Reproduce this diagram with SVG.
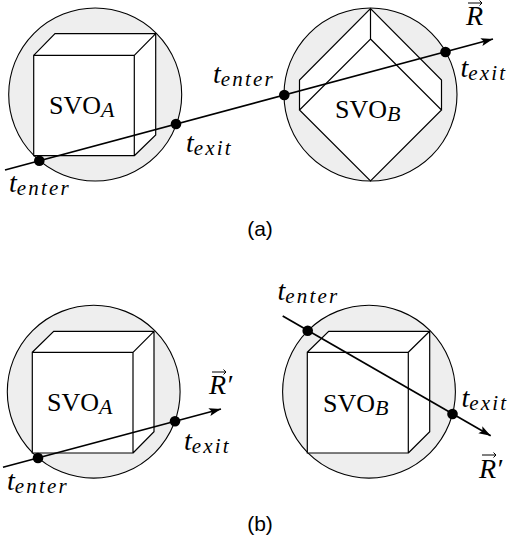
<svg xmlns="http://www.w3.org/2000/svg" width="509" height="543" viewBox="0 0 509 543">
<style>
.c{fill:#eee;stroke:#000;stroke-width:1.1}
.f{fill:#fff;stroke:none}
.e{fill:none;stroke:#000;stroke-width:1.2;stroke-linejoin:miter}
.r{fill:none;stroke:#000;stroke-width:1.7;marker-end:url(#ah)}
.d{fill:#000;stroke:none}
.l{font-family:"Liberation Serif",serif;font-size:26px;fill:#000}
.m{font-family:"Liberation Serif",serif;font-size:28px;font-style:italic;fill:#000}
.s{font-size:21px;font-style:italic;letter-spacing:2.2px}
.u{font-size:22px;font-style:italic}
.v{fill:none;stroke:#000;stroke-width:1}
.cap{font-family:"Liberation Sans",sans-serif;font-size:21px;fill:#000;text-anchor:middle}
</style>
<defs>
<marker id="ah" markerUnits="userSpaceOnUse" markerWidth="14" markerHeight="12" refX="12" refY="5" orient="auto"><path d="M0 1L12 5L0 9L2.5 5Z" fill="#000"/></marker>
<g id="vec"><path class="v" d="M0 0H14M11.5 -2.5L14 0L11.5 2.5"/></g>
</defs>
<g id="svo-a-top">
<circle class="c" cx="95.2" cy="94.5" r="86.5"/>
<path class="f" d="M33.7 55.3L55 33.7H155.7V135L134.3 155.7H33.7Z"/>
<path class="e" d="M33.7 55.3H134.3V155.7H33.7ZM33.7 55.3L55 33.7H155.7V135L134.3 155.7M134.3 55.3L155.7 33.7"/>
<text class="l" x="49" y="113.5">SVO<tspan class="u" dy="3.5">A</tspan></text>
</g>
<g id="svo-b-top">
<circle class="c" cx="370.5" cy="94.5" r="86.5"/>
<path class="f" d="M370.5 8.5L441.5 80V110L370.5 181L299.5 110V80Z"/>
<path class="e" d="M370.5 39L441.5 110L370.5 181L299.5 110ZM299.5 110V80L370.5 8.5L441.5 80V110M370.5 8.5V39"/>
<text class="l" x="335" y="117.5">SVO<tspan class="u" dy="3.5">B</tspan></text>
</g>
<g id="svo-a-bottom">
<circle class="c" cx="93.7" cy="391.7" r="86.4"/>
<path class="f" d="M32.3 352.3L53.7 331.3H154V431.7L133 453H32.3Z"/>
<path class="e" d="M32.3 352.3H133V453H32.3ZM32.3 352.3L53.7 331.3H154V431.7L133 453M133 352.3L154 331.3"/>
<text class="l" x="47" y="410.7">SVO<tspan class="u" dy="3.5">A</tspan></text>
</g>
<g id="svo-b-bottom">
<circle class="c" cx="369" cy="391.7" r="86.4"/>
<path class="f" d="M307.3 352.3L328.7 331.3H429.7V431.7L408.3 453H307.3Z"/>
<path class="e" d="M307.3 352.3H408.3V453H307.3ZM307.3 352.3L328.7 331.3H429.7V431.7L408.3 453M408.3 352.3L429.7 331.3"/>
<text class="l" x="323" y="411.5">SVO<tspan class="u" dy="3.5">B</tspan></text>
</g>
<g id="connectors">
<path class="r" d="M5 170L493 39"/>
<path class="r" d="M3 467.3L221 409"/>
<path class="r" d="M282.7 316L490.7 435.7"/>
</g>
<g id="points">
<circle class="d" cx="39.3" cy="160.7" r="5.3"/>
<circle class="d" cx="176" cy="124" r="5.3"/>
<circle class="d" cx="284.3" cy="95" r="5.3"/>
<circle class="d" cx="445.5" cy="52" r="5.3"/>
<circle class="d" cx="38" cy="458" r="5.3"/>
<circle class="d" cx="175" cy="421.3" r="5.3"/>
<circle class="d" cx="307.7" cy="330.7" r="5.3"/>
<circle class="d" cx="452.5" cy="414" r="5.3"/>
</g>
<g id="labels">
<text class="m" x="9" y="191.5">t<tspan class="s" dy="3">enter</tspan></text>
<text class="m" x="186" y="151.5">t<tspan class="s" dy="3">exit</tspan></text>
<text class="m" x="213" y="83">t<tspan class="s" dy="3">enter</tspan></text>
<text class="m" x="460.5" y="76.5">t<tspan class="s" dy="3">exit</tspan></text>
<text class="m" x="7" y="490">t<tspan class="s" dy="3">enter</tspan></text>
<text class="m" x="184" y="450">t<tspan class="s" dy="3">exit</tspan></text>
<text class="m" x="277.5" y="300">t<tspan class="s" dy="3">enter</tspan></text>
<text class="m" x="461.5" y="406.5">t<tspan class="s" dy="3">exit</tspan></text>
<text class="m" x="466" y="25">R</text><use href="#vec" x="468" y="3"/>
<text class="m" x="209" y="394">R′</text><use href="#vec" x="212" y="372"/>
<text class="m" x="479" y="478">R′</text><use href="#vec" x="482" y="455"/>
<text class="cap" x="260" y="236">(a)</text>
<text class="cap" x="260" y="531">(b)</text>
</g>
</svg>
